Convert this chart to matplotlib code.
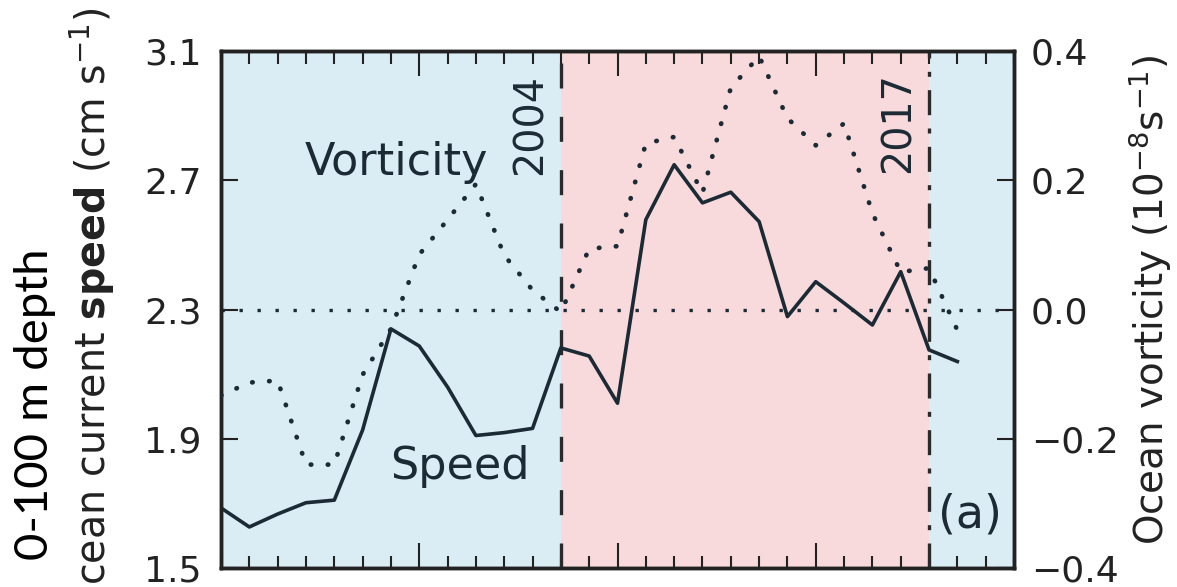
import numpy as np
import matplotlib.pyplot as plt
from matplotlib.ticker import MultipleLocator, FixedLocator

years = np.arange(1992, 2019)
speed = [1.686, 1.627, 1.667, 1.702, 1.710, 1.927, 2.240, 2.187, 2.060, 1.910,
         1.919, 1.932, 2.181, 2.156, 2.010, 2.578, 2.748, 2.630, 2.663, 2.572,
         2.278, 2.386, 2.320, 2.252, 2.417, 2.175, 2.139]
vorticity = [-0.133, -0.113, -0.110, -0.240, -0.240, -0.101, -0.030, 0.085, 0.139, 0.194,
             0.084, 0.030, -0.004, 0.094, 0.098, 0.257, 0.267, 0.180, 0.343, 0.392,
             0.296, 0.254, 0.288, 0.149, 0.058, 0.064, -0.032]

speed_ticks = [1.5, 1.9, 2.3, 2.7, 3.1]
vort_ticks = [-0.4, -0.2, 0.0, 0.2, 0.4]
major_years = [1999, 2006, 2013]
period_start, period_end = 2004, 2017

ink = '#1b2a34'
blue = '#daecf4'
pink = '#f8dadc'

fig = plt.figure(figsize=(11.77, 5.87), dpi=100)
ax = fig.add_axes([221 / 1177, 19 / 587, 793 / 1177, 517 / 587])
ax2 = ax.twinx()

ax.set_xlim(1992, 2020)
ax.set_ylim(1.5, 3.1)
ax2.set_ylim(-0.4, 0.4)

# background periods
ax.axvspan(1992, period_start, color=blue, lw=0, zorder=0)
ax.axvspan(period_start, period_end, color=pink, lw=0, zorder=0)
ax.axvspan(period_end, 2020, color=blue, lw=0, zorder=0)

ax.axvline(period_start, color='#2a2a2a', lw=2.4, linestyle=(0, (7.5, 8.5)), zorder=2)
ax.axvline(period_end, color='#2a2a2a', lw=2.4, linestyle=(0, (7.5, 4, 1.5, 4)), zorder=2)
ax2.axhline(0.0, color=ink, lw=2.4, linestyle=(0, (1.0, 4.4)), zorder=2)

ax.plot(years, speed, color=ink, lw=2.6, zorder=3)
ax2.plot(years, vorticity, color=ink, lw=3.4, linestyle=(0, (0.1, 3.5)),
         dash_capstyle='round', zorder=3)

ax.text(1998.18, 2.716, 'Vorticity', fontsize=32, color=ink, ha='center', va='baseline')
ax.text(2000.44, 1.775, 'Speed', fontsize=32, color=ink, ha='center', va='baseline')
ax.text(2002.95, 3.03, '2004', fontsize=28.5, color=ink, rotation=90, ha='center', va='top')
ax.text(2015.94, 3.035, '2017', fontsize=28.5, color=ink, rotation=90, ha='center', va='top')
ax.text(2018.45, 1.664, '(a)', fontsize=33, color=ink, ha='center', va='center')

# axes styling
for a in (ax, ax2):
    for s in a.spines.values():
        s.set_linewidth(2.5)
        s.set_color('#222222')
ax2.patch.set_visible(False)

ax.xaxis.set_minor_locator(MultipleLocator(1))
ax.xaxis.set_major_locator(FixedLocator(major_years))
ax.tick_params(axis='x', which='major', direction='in', length=18, width=1.5,
               top=True, bottom=True, labelbottom=False, color='#222222')
ax.tick_params(axis='x', which='minor', direction='in', length=9, width=1.5,
               top=True, bottom=True, color='#222222')

ax.set_yticks(speed_ticks)
ax.set_yticklabels(['1.5', '1.9', '2.3', '2.7', '3.1'])
ax.tick_params(axis='y', direction='in', length=12, width=1.5, labelsize=26,
               pad=14, colors='#222222')
ax2.set_yticks(vort_ticks)
ax2.set_yticklabels(['\u22120.4', '\u22120.2', '0.0', '0.2', '0.4'])
ax2.tick_params(axis='y', direction='in', length=12, width=1.5, labelsize=26,
                pad=12, colors='#222222')

fig.text(92 / 1177, 1 - 312 / 587, r'Ocean current $\mathbf{speed}$ (cm s$^{-1}$)',
         fontsize=28.5, color='#222222', rotation=90, ha='center', va='center')
fig.text(1150 / 1177, 1 - 300 / 587, r'Ocean vorticity (10$^{-8}$s$^{-1}$)',
         fontsize=28, color='#222222', rotation=90, ha='center', va='center')

fig.text(35 / 1177, 1 - 404 / 587, '0-100 m depth', fontsize=34, rotation=90,
         ha='center', va='center', family=['Lato', 'DejaVu Sans'])

fig.savefig('out.png', dpi=100)
